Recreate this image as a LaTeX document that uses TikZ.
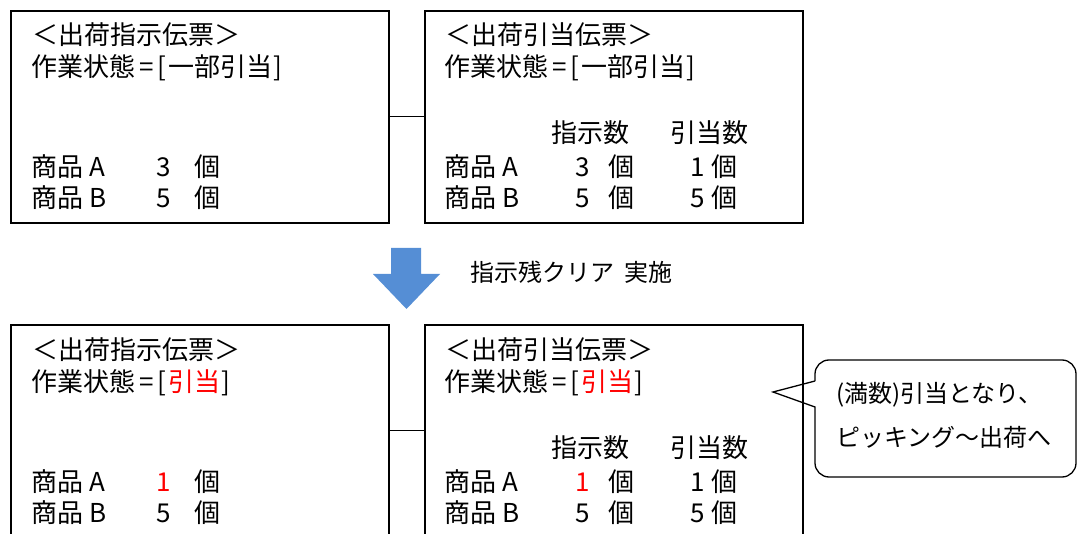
\documentclass[tikz,border=0pt]{standalone}
\usepackage{fontspec}
\setmainfont{Noto Sans CJK JP}
\usepackage{xcolor}
\usepackage{tikz}
\usetikzlibrary{positioning}
\definecolor{flowblue}{RGB}{85,142,213}
\newcommand{\eqsep}{\hspace{0.16em}=\hspace{0.16em}[\hspace{0.05em}}

\begin{document}
\begin{tikzpicture}[
  x=1pt, y=-1pt,
  font=\fontsize{26}{31}\selectfont,
  slip/.style={draw, line width=1.6pt, anchor=north west,
               minimum width=378pt, minimum height=212pt, inner sep=0pt},
  txt/.style={anchor=west, inner sep=0pt, text height=23pt, text depth=3pt},
  small/.style={txt, font=\fontsize{24}{29}\selectfont, text height=21pt},
  link/.style={line width=1.3pt},
  hot/.style={txt, text=red}
]
\useasboundingbox (0,0) rectangle (1078,534);

% before: instruction slip and allocation slip
\node[slip] (topinst) at (10,10) {};
\node[slip] (topalloc) at (424,10) {};
\draw[link] (topinst.east) -- (topalloc.west);

\node[txt] (ti1) at (32,35) {＜出荷指示伝票＞};
\node[txt] (ti2) at (31,67) {作業状態\eqsep 一部引当\hspace{0.05em}]};
\node[txt] (tia) at (31,167) {商品 A};
\node[txt] (tib) at (31,198) {商品 B};
\node[txt] (tian) at (156,167) {3};
\node[txt] (tiau) at (194,167) {個};
\node[txt] (tibn) at (156,198) {5};
\node[txt] (tibu) at (194,198) {個};

\node[txt] (ta1) at (445,35) {＜出荷引当伝票＞};
\node[txt] (ta2) at (444,67) {作業状態\eqsep 一部引当\hspace{0.05em}]};
\node[txt] (tah1) at (551,133) {指示数};
\node[txt] (tah2) at (670,133) {引当数};
\node[txt] (taa) at (444,167) {商品 A};
\node[txt] (tab) at (444,198) {商品 B};
\node[txt] (taan) at (575,167) {3};
\node[txt] (taau) at (608,167) {個};
\node[txt] (tabn) at (575,198) {5};
\node[txt] (tabu) at (608,198) {個};
\node[txt] (taam) at (690,167) {1};
\node[txt] (taav) at (711,167) {個};
\node[txt] (tabm) at (690,198) {5};
\node[txt] (tabv) at (711,198) {個};

% step arrow
\fill[flowblue] (391,248) -- (421,248) -- (421,274) -- (440,274)
  -- (406.5,309) -- (373,274) -- (391,274) -- cycle;
\node[small] (clearlbl) at (470,273) {指示残クリア\hspace{0.45em}実施};

% after
\node[slip] (botinst) at (10,324) {};
\node[slip] (botalloc) at (424,324) {};
\draw[link] (botinst.east) -- (botalloc.west);

\node[txt] (bi1) at (32,349) {＜出荷指示伝票＞};
\node[txt] (bi2) at (31,381) {作業状態\eqsep\textcolor{red}{引当}\hspace{0.05em}]};
\node[txt] (bia) at (31,481) {商品 A};
\node[txt] (bib) at (31,512) {商品 B};
\node[hot] (bian) at (156,481) {1};
\node[txt] (biau) at (194,481) {個};
\node[txt] (bibn) at (156,512) {5};
\node[txt] (bibu) at (194,512) {個};

\node[txt] (ba1) at (445,349) {＜出荷引当伝票＞};
\node[txt] (ba2) at (444,381) {作業状態\eqsep\textcolor{red}{引当}\hspace{0.05em}]};
\node[txt] (bah1) at (551,447) {指示数};
\node[txt] (bah2) at (670,447) {引当数};
\node[txt] (baa) at (444,481) {商品 A};
\node[txt] (bab) at (444,512) {商品 B};
\node[hot] (baan) at (575,481) {1};
\node[txt] (baau) at (608,481) {個};
\node[txt] (babn) at (575,512) {5};
\node[txt] (babu) at (608,512) {個};
\node[txt] (baam) at (690,481) {1};
\node[txt] (baav) at (711,481) {個};
\node[txt] (babm) at (690,512) {5};
\node[txt] (babv) at (711,512) {個};

% callout
\draw[link, line join=miter] (815,381) -- (773,392) -- (815,407)
  [rounded corners=14pt] -- (815,477) -- (1076,477) -- (1076,360)
  -- (815,360) -- (815,381);
\node[small] (note1) at (836,393) {(満数)引当となり、};
\node[small] (note2) at (836,437) {ピッキング～出荷へ};
\end{tikzpicture}
\end{document}
